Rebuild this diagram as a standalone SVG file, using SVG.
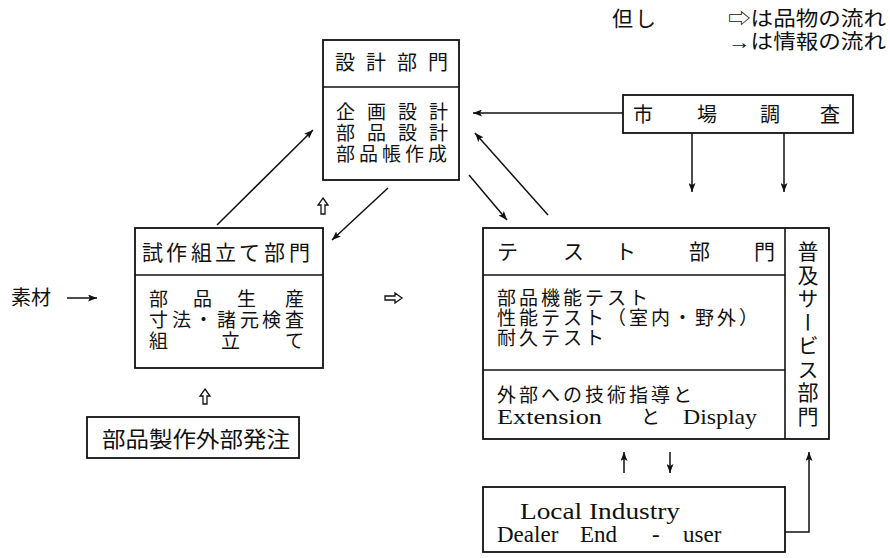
<svg xmlns="http://www.w3.org/2000/svg" width="890" height="558" viewBox="0 0 890 558">
<defs>
<marker id="ah" viewBox="0 0 9 7" refX="9" refY="3.5" markerWidth="9" markerHeight="7" markerUnits="userSpaceOnUse" orient="auto">
<path d="M0,0 L9,3.5 L0,7 L2,3.5 z" fill="#111"/>
</marker>
</defs>
<style>
.box{fill:#fff;stroke:#111;stroke-width:1.8}
.div{stroke:#111;stroke-width:1.6;fill:none}
.t{font-family:"Liberation Serif","Noto Sans CJK JP","DejaVu Sans",serif;fill:#111}
.ln{stroke:#111;stroke-width:1.5;fill:none;marker-end:url(#ah)}
.hol{fill:#fff;stroke:#111;stroke-width:1.3;stroke-linejoin:miter}
</style>
<rect width="890" height="558" fill="#fff"/>

<g id="legend">
<text class="t" font-size="21" x="612 635" y="26">但し</text>
<text class="t" font-size="20" x="728" y="26" textLength="158" lengthAdjust="spacingAndGlyphs">⇨は品物の流れ</text>
<text class="t" font-size="20" x="728" y="49" textLength="158" lengthAdjust="spacingAndGlyphs">→は情報の流れ</text>
</g>

<g id="design">
<rect class="box" x="323" y="40" width="136" height="140"/>
<line class="div" x1="323" y1="87" x2="459" y2="87"/>
<text class="t" font-size="20" x="335 366 397 428" y="70">設計部門</text>
<text class="t" font-size="19" x="336 367 398 429" y="119">企画設計</text>
<text class="t" font-size="19" x="336 367 398 429" y="140">部品設計</text>
<text class="t" font-size="19" x="336 359 382 405 428" y="161">部品帳作成</text>
</g>

<g id="market">
<rect class="box" x="623" y="95" width="230" height="38"/>
<text class="t" font-size="20" x="633 697 760 820" y="122">市場調査</text>
</g>

<g id="trial">
<rect class="box" x="135" y="228" width="188" height="140"/>
<line class="div" x1="135" y1="275" x2="323" y2="275"/>
<text class="t" font-size="21" x="142 166 191 215 239 264 289" y="260">試作組立て部門</text>
<text class="t" font-size="19" x="149 193 237 285" y="306">部品生産</text>
<text class="t" font-size="19" x="149 172 194 217 240 262 285" y="327">寸法・諸元検査</text>
<text class="t" font-size="19" x="149 221 285" y="348">組立て</text>
</g>

<g id="material">
<text class="t" font-size="20" x="11 31" y="305">素材</text>
</g>

<g id="test">
<rect class="box" x="483" y="228" width="346" height="211"/>
<line class="div" x1="785" y1="228" x2="785" y2="439"/>
<line class="div" x1="483" y1="275" x2="785" y2="275"/>
<line class="div" x1="483" y1="370" x2="785" y2="370"/>
<text class="t" font-size="21" x="497 563 615 689 754" y="259">テスト部門</text>
<text class="t" font-size="19" letter-spacing="3" x="497" y="305">部品機能テスト</text>
<text class="t" font-size="19" letter-spacing="3" x="497" y="325">性能テスト（室内・野外）</text>
<text class="t" font-size="19" letter-spacing="3" x="497" y="345">耐久テスト</text>
<text class="t" font-size="19" letter-spacing="3" x="497" y="402">外部への技術指導と</text>
<text class="t" font-size="21" x="497" y="424" textLength="105" lengthAdjust="spacingAndGlyphs">Extension</text>
<text class="t" font-size="19" x="641" y="424">と</text>
<text class="t" font-size="21" x="683" y="424" textLength="74" lengthAdjust="spacingAndGlyphs">Display</text>
<text class="t" font-size="21" x="806" y="241" letter-spacing="2.5" style="writing-mode:vertical-rl;text-orientation:upright">普及サービス部門</text>
</g>

<g id="extorder">
<rect class="box" x="87" y="417" width="212" height="41"/>
<text class="t" font-size="22" x="102" y="447" textLength="188" lengthAdjust="spacingAndGlyphs">部品製作外部発注</text>
</g>

<g id="local">
<rect class="box" x="483" y="487" width="302" height="65"/>
<text class="t" font-size="23" x="520" y="519" textLength="160" lengthAdjust="spacingAndGlyphs">Local Industry</text>
<text class="t" font-size="23" y="542"><tspan x="497">Dealer</tspan><tspan x="580">End</tspan><tspan x="652">-</tspan><tspan x="683">user</tspan></text>
</g>

<g id="connectors">
<line class="ln" x1="623" y1="113" x2="473" y2="113"/>
<line class="ln" x1="692" y1="133" x2="692" y2="192"/>
<line class="ln" x1="784" y1="133" x2="784" y2="192"/>
<line class="ln" x1="217" y1="225" x2="313" y2="130"/>
<line class="ln" x1="388" y1="188" x2="332" y2="240"/>
<line class="ln" x1="469" y1="175" x2="507" y2="220"/>
<line class="ln" x1="548" y1="215" x2="475" y2="133"/>
<line class="ln" x1="67" y1="298" x2="97" y2="298"/>
<line class="ln" x1="624" y1="473" x2="624" y2="452"/>
<line class="ln" x1="670" y1="452" x2="670" y2="473"/>
<polyline class="ln" points="785,532 809,532 809,452"/>
<path class="hol" d="M385,296 L395,296 L395,293 L402,298 L395,303 L395,300 L385,300 Z"/>
<path class="hol" d="M323,198 L328,205 L325,205 L325,214 L321,214 L321,205 L318,205 Z"/>
<path class="hol" d="M205,389 L210,396 L207,396 L207,404 L203,404 L203,396 L200,396 Z"/>
</g>
</svg>
